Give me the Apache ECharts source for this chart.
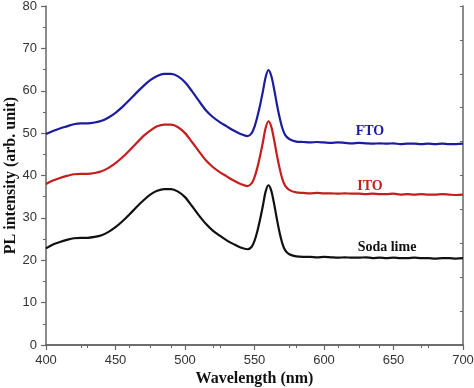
<!DOCTYPE html>
<html><head><meta charset="utf-8">
<script src="https://cdn.jsdelivr.net/npm/echarts@6/dist/echarts.min.js"></script>
<style>html,body{margin:0;padding:0;background:#fff}#c{width:474px;height:388px}</style>
</head><body><div id="c"></div>
<script>
const wavelengths = [400,405,410,415,420,425,430,435,440,445,450,455,460,465,470,475,480,485,490,495,500,505,510,515,520,525,530,535,540,545,
548,550,552,554,556,558,560,562,564,566,568,570,572,
575,580,585,590,595,600,605,610,615,620,625,630,635,640,645,650,655,660,665,670,675,680,685,690,695,700];
const fto = [49.8,50.5,51.1,51.6,52.1,52.3,52.3,52.5,52.9,53.7,54.8,56.2,57.8,59.5,61.1,62.5,63.5,64.0,64.0,63.4,62.0,59.9,57.6,55.4,53.8,52.6,51.6,50.6,49.8,49.3,
50.0,51.5,53.8,56.6,59.8,63.2,64.9,63.6,60.6,57.0,53.8,51.2,49.6,
48.6,48.0,47.9,47.8,47.9,47.8,47.7,47.8,47.7,47.6,47.7,47.6,47.5,47.6,47.5,47.6,47.4,47.5,47.5,47.4,47.5,47.4,47.5,47.4,47.4,47.5];
const ito = [38.0,38.8,39.4,39.9,40.3,40.4,40.4,40.6,41.0,41.8,42.9,44.3,45.9,47.6,49.3,50.6,51.6,52.0,52.0,51.4,50.0,47.9,45.7,43.6,42.0,40.8,39.8,38.8,38.0,37.5,
38.2,39.6,41.8,44.6,47.8,51.2,52.8,51.6,48.6,45.0,41.8,39.2,37.6,
36.6,36.0,35.9,35.8,35.9,35.8,35.8,35.7,35.8,35.7,35.7,35.6,35.7,35.6,35.6,35.7,35.5,35.6,35.5,35.6,35.5,35.5,35.6,35.5,35.4,35.5];
const sodaLime = [22.8,23.7,24.3,24.8,25.2,25.3,25.3,25.5,25.9,26.7,27.8,29.2,30.8,32.5,34.1,35.5,36.4,36.8,36.8,36.2,34.9,32.8,30.6,28.6,27.0,25.8,24.7,23.8,23.0,22.6,
23.2,24.6,26.8,29.6,32.8,36.2,37.7,36.5,33.5,29.9,26.6,24.0,22.4,
21.4,20.9,20.8,20.8,20.7,20.8,20.7,20.6,20.7,20.6,20.6,20.7,20.5,20.6,20.5,20.6,20.5,20.5,20.6,20.5,20.5,20.4,20.5,20.5,20.4,20.5];
const seriesNames = ['FTO','ITO','Soda lime'];
const xTitle = 'Wavelength (nm)';
const yTitle = 'PL intensity (arb. unit)';

const pairs = arr => wavelengths.map((w,i)=>[w,arr[i]]);
const axisCol = '#666';
const chart = echarts.init(document.getElementById('c'));
const lineSeries = (name, arr, color) => ({
  name, type:'line', data: pairs(arr), showSymbol:false, smooth:0.3,
  lineStyle:{color, width:2.2}, itemStyle:{color}, silent:true
});
const labelFont = {color:'#333',fontSize:13,fontFamily:'Liberation Sans, Arial, sans-serif',margin:9};
const titleFont = {fontFamily:'Liberation Serif, Times New Roman, serif',fontWeight:'bold',fontSize:16,color:'#111'};
chart.setOption({
  animation:false,
  grid:{left:46,right:11,top:6,bottom:43,containLabel:false,outerBoundsMode:'none'},
  xAxis:[{
    type:'value', min:400, max:700, interval:50, position:'bottom',
    axisLine:{show:true,lineStyle:{color:axisCol,width:1.5}},
    axisTick:{show:true,length:5,lineStyle:{color:axisCol,width:1.2}},
    minorTick:{show:true,splitNumber:2,length:3,lineStyle:{color:axisCol}},
    splitLine:{show:false},
    axisLabel:labelFont,
    name:xTitle, nameLocation:'middle', nameGap:26, nameMoveOverlap:false,
    nameTextStyle:titleFont
  },{
    type:'value', min:400, max:700, interval:30, position:'top',
    axisLine:{show:true,lineStyle:{color:axisCol,width:1.5}},
    axisTick:{show:true,inside:true,length:3,lineStyle:{color:axisCol}},
    axisLabel:{show:false}, splitLine:{show:false}
  }],
  yAxis:[{
    type:'value', min:0, max:80, interval:10, position:'left',
    axisLine:{show:true,lineStyle:{color:axisCol,width:1.5}},
    axisTick:{show:true,length:5,lineStyle:{color:axisCol,width:1.2}},
    minorTick:{show:true,splitNumber:2,length:3,lineStyle:{color:axisCol}},
    splitLine:{show:false},
    axisLabel:labelFont,
    name:yTitle, nameLocation:'middle', nameGap:27, nameMoveOverlap:false,
    nameTextStyle:titleFont
  },{
    type:'value', min:0, max:80, interval:8, position:'right',
    axisLine:{show:true,lineStyle:{color:axisCol,width:1.5}},
    axisTick:{show:true,inside:true,length:3,lineStyle:{color:axisCol}},
    axisLabel:{show:false}, splitLine:{show:false}
  }],
  graphic:[
    {type:'text',x:370,y:131,style:{text:seriesNames[0],fill:'#1c1c9e',font:'bold 14px "Liberation Serif", serif',textAlign:'center',textVerticalAlign:'middle'}},
    {type:'text',x:370,y:186,style:{text:seriesNames[1],fill:'#c41e1e',font:'bold 14px "Liberation Serif", serif',textAlign:'center',textVerticalAlign:'middle'}},
    {type:'text',x:387,y:247,style:{text:seriesNames[2],fill:'#111',font:'bold 14px "Liberation Serif", serif',textAlign:'center',textVerticalAlign:'middle'}}
  ],
  series:[
    lineSeries(seriesNames[0], fto, '#1c1c9e'),
    lineSeries(seriesNames[1], ito, '#c41e1e'),
    lineSeries(seriesNames[2], sodaLime, '#111')
  ]
});
</script></body></html>
